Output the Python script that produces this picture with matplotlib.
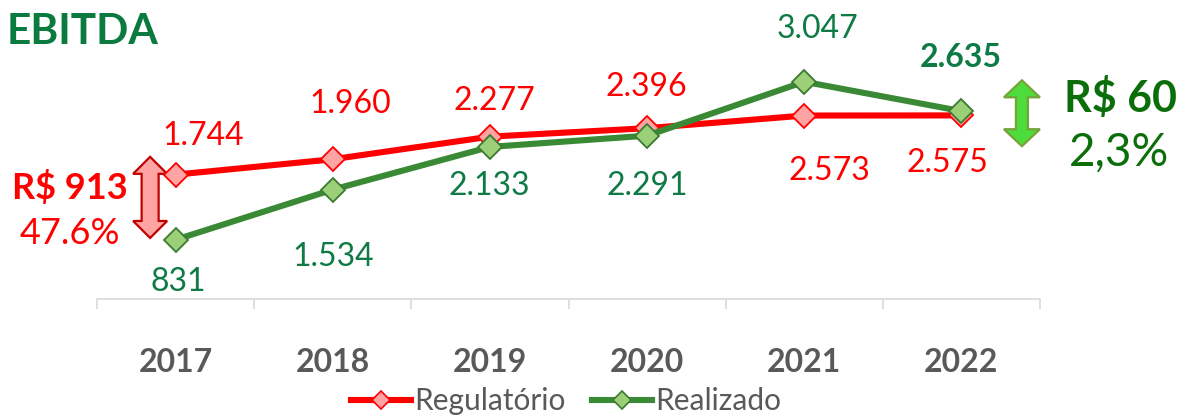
import matplotlib.pyplot as plt
from matplotlib.patches import Polygon
from matplotlib.lines import Line2D

years = ['2017', '2018', '2019', '2020', '2021', '2022']
regulatorio = [1744, 1960, 2277, 2396, 2573, 2575]
realizado = [831, 1534, 2133, 2291, 3047, 2635]
reg_labels = ['1.744', '1.960', '2.277', '2.396', '2.573', '2.575']
real_labels = ['831', '1.534', '2.133', '2.291', '3.047', '2.635']

# label offsets in pixels from the marker
reg_offsets = [(28, 39), (17, 55), (4, 36), (-1, 41), (25, -55), (-14, -48)]
real_offsets = [(3, -42), (0, -67), (-1, -39), (0, -50), (13, 53), (-1, 54)]

RED = '#ff0000'
RED_FACE = '#ffa3a3'
GREEN_LINE = '#3a8a35'
GREEN_FACE = '#9bcf78'
GREEN_EDGE = '#3b7a31'
GREEN_TXT = '#0e7a45'
GRAY = '#595959'

plt.rcParams['font.family'] = ['Lato', 'DejaVu Sans']

W, H = 1186, 415
fig = plt.figure(figsize=(W / 100, H / 100), dpi=100)
YMAX = 4000
px_per_val = 0.0713
ax = fig.add_axes([97 / W, (H - 299) / H, 943 / W, YMAX * px_per_val / H])
ax.set_xlim(-0.5, 5.5)
ax.set_ylim(0, YMAX)

x = list(range(len(years)))
ax.plot(x, regulatorio, color=RED, lw=4.4, marker='D', ms=12.5,
        mfc=RED_FACE, mec=RED, mew=1.3, clip_on=False, zorder=3)
ax.plot(x, realizado, color=GREEN_LINE, lw=4.4, marker='D', ms=12.5,
        mfc=GREEN_FACE, mec=GREEN_EDGE, mew=1.3, clip_on=False, zorder=4)

for i in x:
    ax.annotate(reg_labels[i], (i, regulatorio[i]), xytext=reg_offsets[i],
                textcoords='offset pixels', ha='center', va='center',
                color=RED, fontsize=23)
    ax.annotate(real_labels[i], (i, realizado[i]), xytext=real_offsets[i],
                textcoords='offset pixels', ha='center', va='center',
                color=GREEN_TXT, fontsize=23,
                fontweight='bold' if i == len(x) - 1 else 'normal')


def double_arrow(ax, xc, y0, y1, shaft_px, head_px, head_len_px, face, edge):
    xu = 157.0  # pixels per category
    sw = shaft_px / xu
    hw = head_px / xu
    hl = head_len_px / px_per_val
    pts = [(xc, y1), (xc + hw, y1 - hl), (xc + sw, y1 - hl), (xc + sw, y0 + hl),
           (xc + hw, y0 + hl), (xc, y0), (xc - hw, y0 + hl), (xc - sw, y0 + hl),
           (xc - sw, y1 - hl), (xc - hw, y1 - hl)]
    ax.add_patch(Polygon(pts, closed=True, fc=face, ec=edge, lw=1.6,
                         clip_on=False, zorder=2))


# gap arrows
double_arrow(ax, -0.162, realizado[0] + 25, regulatorio[0] + 250,
             8.5, 17, 17, '#ffa3a3', '#c00000')
mid = (regulatorio[-1] + realizado[-1]) / 2
double_arrow(ax, 5.385, mid - 462, mid + 462, 6, 18, 17, '#4cdc3c', '#77a33a')

fig.text(128 / W, 1 - 187 / H, 'R$ 913', color=RED, fontsize=26,
         fontweight='bold', ha='right', va='center')
fig.text(70 / W, 1 - 233 / H, '47.6%', color=RED, fontsize=26,
         ha='center', va='center')
fig.text(1120 / W, 1 - 98 / H, 'R$ 60', color='#0b6e0b', fontsize=31,
         fontweight='bold', ha='center', va='center')
fig.text(1119 / W, 1 - 153 / H, '2,3%', color='#0b6e0b', fontsize=33,
         ha='center', va='center')
fig.text(7 / W, 1 - 32 / H, 'EBITDA', color='#0a7a3e', fontsize=30.5,
         fontweight='bold', ha='left', va='center')

for s in ['left', 'right', 'top']:
    ax.spines[s].set_visible(False)
ax.spines['bottom'].set_color('#d9d9d9')
ax.spines['bottom'].set_linewidth(1.2)
ax.set_yticks([])
ax.set_xticks(x)
ax.set_xticklabels(years, fontsize=23, fontweight='bold', color=GRAY)
ax.set_xticks([i - 0.5 for i in range(len(years) + 1)], minor=True)
ax.tick_params(axis='x', which='major', length=0, pad=35)
ax.tick_params(axis='x', which='minor', length=7.5, width=1.2, color='#d9d9d9')

handles = [
    Line2D([], [], color=RED, lw=4.4, marker='D', ms=9, mfc=RED_FACE, mec=RED, mew=1.2),
    Line2D([], [], color=GREEN_LINE, lw=4.4, marker='D', ms=9, mfc=GREEN_FACE,
           mec=GREEN_EDGE, mew=1.2),
]
leg = fig.legend(handles, ['Regulatório', 'Realizado'], loc='center',
                 bbox_to_anchor=(566 / W, 1 - 401 / H), ncol=2, frameon=False,
                 fontsize=21.5, handlelength=2.0, handletextpad=0.1, columnspacing=0.9)
for t in leg.get_texts():
    t.set_color(GRAY)

fig.savefig('out.png', dpi=100)
